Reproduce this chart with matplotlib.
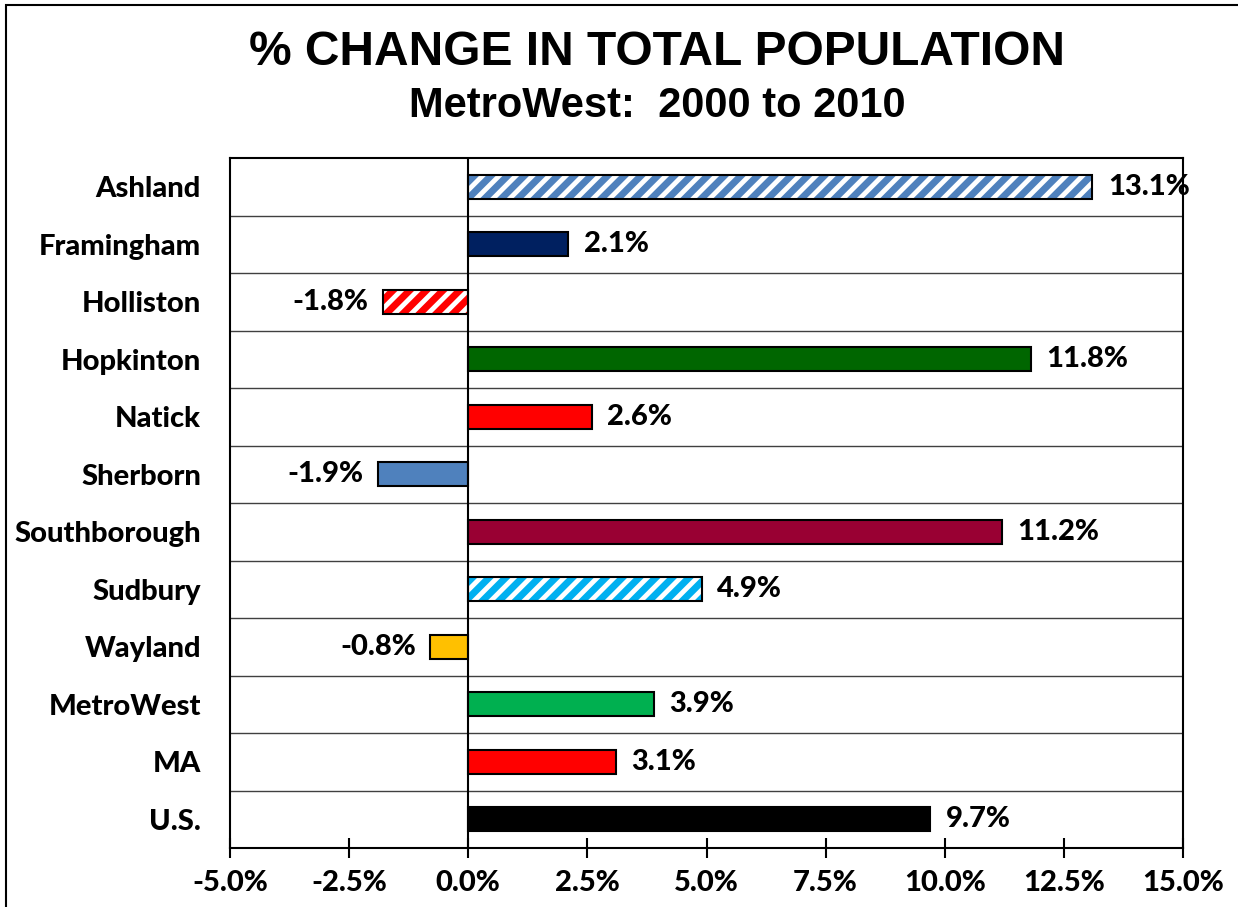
import matplotlib.pyplot as plt
from matplotlib.patches import Rectangle
from matplotlib.ticker import FuncFormatter

towns = ["Ashland", "Framingham", "Holliston", "Hopkinton", "Natick", "Sherborn",
         "Southborough", "Sudbury", "Wayland", "MetroWest", "MA", "U.S."]
change = [13.1, 2.1, -1.8, 11.8, 2.6, -1.9, 11.2, 4.9, -0.8, 3.9, 3.1, 9.7]
colors = ["#4F81BD", "#002060", "#FF0000", "#006600", "#FF0000", "#4F81BD",
          "#990033", "#00B0F0", "#FFC000", "#00B050", "#FF0000", "#000000"]
hatched = ["Ashland", "Holliston", "Sudbury"]
ticks = [-5.0, -2.5, 0.0, 2.5, 5.0, 7.5, 10.0, 12.5, 15.0]

plt.rcParams["hatch.linewidth"] = 5
lab_font = dict(family="Lato", weight="black", size=21)

fig = plt.figure(figsize=(12.38, 9.07), dpi=100)
ax = fig.add_axes([0.1858, 0.065, 0.7698, 0.7608])

ypos = list(range(len(towns)))
for y, name, v, c in zip(ypos, towns, change, colors):
    if name in hatched:
        ax.barh(y, v, height=0.42, color="white", edgecolor=c, hatch="//",
                linewidth=0, zorder=2)
        ax.barh(y, v, height=0.42, fill=False, edgecolor="black", linewidth=1.5, zorder=3)
    else:
        ax.barh(y, v, height=0.42, color=c, edgecolor="black", linewidth=1.5, zorder=3)
    if v >= 0:
        ax.text(v + 0.32, y, f"{v:.1f}%", ha="left", va="center", zorder=5, **lab_font)
    else:
        ax.text(v - 0.3, y, f"{v:.1f}%", ha="right", va="center", zorder=5, **lab_font)

ax.set_xlim(-5, 15)
ax.set_ylim(len(towns) - 0.5, -0.5)
ax.set_xticks(ticks)
ax.xaxis.set_major_formatter(FuncFormatter(lambda x, _: f"{x:.1f}%"))
ax.set_yticks(ypos)
ax.set_yticklabels(towns)
ax.tick_params(axis="y", length=0, pad=21)
ax.tick_params(axis="x", direction="inout", length=14, width=1.5, pad=9)
for lbl in ax.get_xticklabels() + ax.get_yticklabels():
    lbl.set_fontfamily("Lato")
    lbl.set_fontweight("black")
    lbl.set_fontsize(21)

# row separators
for b in range(1, len(towns)):
    ax.axhline(b - 0.5, color="#404040", linewidth=1, zorder=1)
ax.axvline(0, color="black", linewidth=1.5, zorder=4)
for s in ax.spines.values():
    s.set_linewidth(1.5)
    s.set_zorder(4)

fig.text(0.531, 0.942, "% CHANGE IN TOTAL POPULATION", ha="center", va="center",
         family="Liberation Sans", weight="bold", size=34.5)
fig.text(0.531, 0.883, "MetroWest:  2000 to 2010", ha="center", va="center",
         family="Liberation Sans", weight="bold", size=30)

# outer frame
fig.patches.append(Rectangle((0.005, -0.1), 1.2, 1.0945, transform=fig.transFigure,
                             fill=False, edgecolor="black", linewidth=1.5))

fig.savefig("out.png", dpi=100)
